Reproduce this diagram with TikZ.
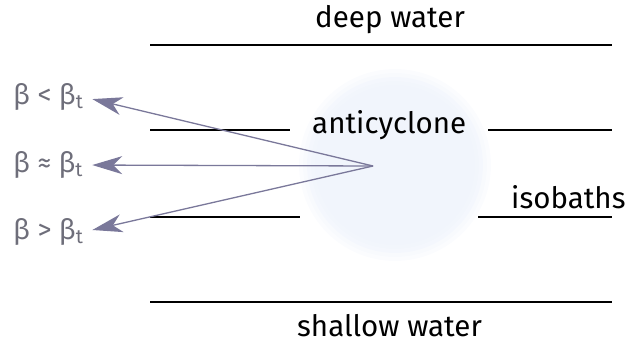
\documentclass[tikz,border=0pt]{standalone}
\usepackage{fontspec}
\setmainfont{Fira Sans}
\usetikzlibrary{arrows.meta}
\definecolor{arrowgray}{HTML}{7A789A}
\definecolor{labelgray}{HTML}{6E6E7A}
\definecolor{blobblue}{HTML}{F1F5FC}
\newcommand{\betat}{β\textsubscript{t}}
\begin{document}
\begin{tikzpicture}[x=1pt, y=-1pt, >={Stealth[length=30pt, width=18pt, inset=9pt]}]
\tikzset{word/.style={font=\fontsize{29.5}{32}\selectfont, text=black, inner sep=0pt, anchor=base west},
  beta/.style={font=\fontsize{28}{30}\selectfont, text=labelgray, inner sep=0pt, anchor=west},
  isobath/.style={line width=1.4pt, black}}
\useasboundingbox (0,0) rectangle (626,343);
\foreach \r/\o in {96/0.25,92/0.35,88/0.5,84/0.7,80/1}
  \fill[blobblue, opacity=\o] (395,165) circle (\r);

% isobaths
\draw[isobath] (150,45) -- (612,45);
\draw[isobath] (150,130) -- (290,130);
\draw[isobath] (488,130) -- (612,130);
\draw[isobath] (150,217) -- (300,217);
\draw[isobath] (478,217) -- (612,217);
\draw[isobath] (150,302) -- (612,302);

\node[word] (deep) at (315,27) {deep water};
\node[word] (anti) at (312,133) {anticyclone};
\node[word] (iso) at (511,208) {isobaths};
\node[word] (shallow) at (297,336) {shallow water};

\node[beta] (lt) at (13,97) {β < \betat};
\node[beta] (ap) at (13,165) {β ≈ \betat};
\node[beta] (gt) at (13,232) {β > \betat};

\coordinate (src) at (373,166);
\draw[->, arrowgray, line width=1.3pt, shorten >=9pt] (src) -- (lt.east);
\draw[->, arrowgray, line width=1.3pt, shorten >=9pt] (src) -- (ap.east);
\draw[->, arrowgray, line width=1.3pt, shorten >=9pt] (src) -- (gt.east);
\end{tikzpicture}
\end{document}
